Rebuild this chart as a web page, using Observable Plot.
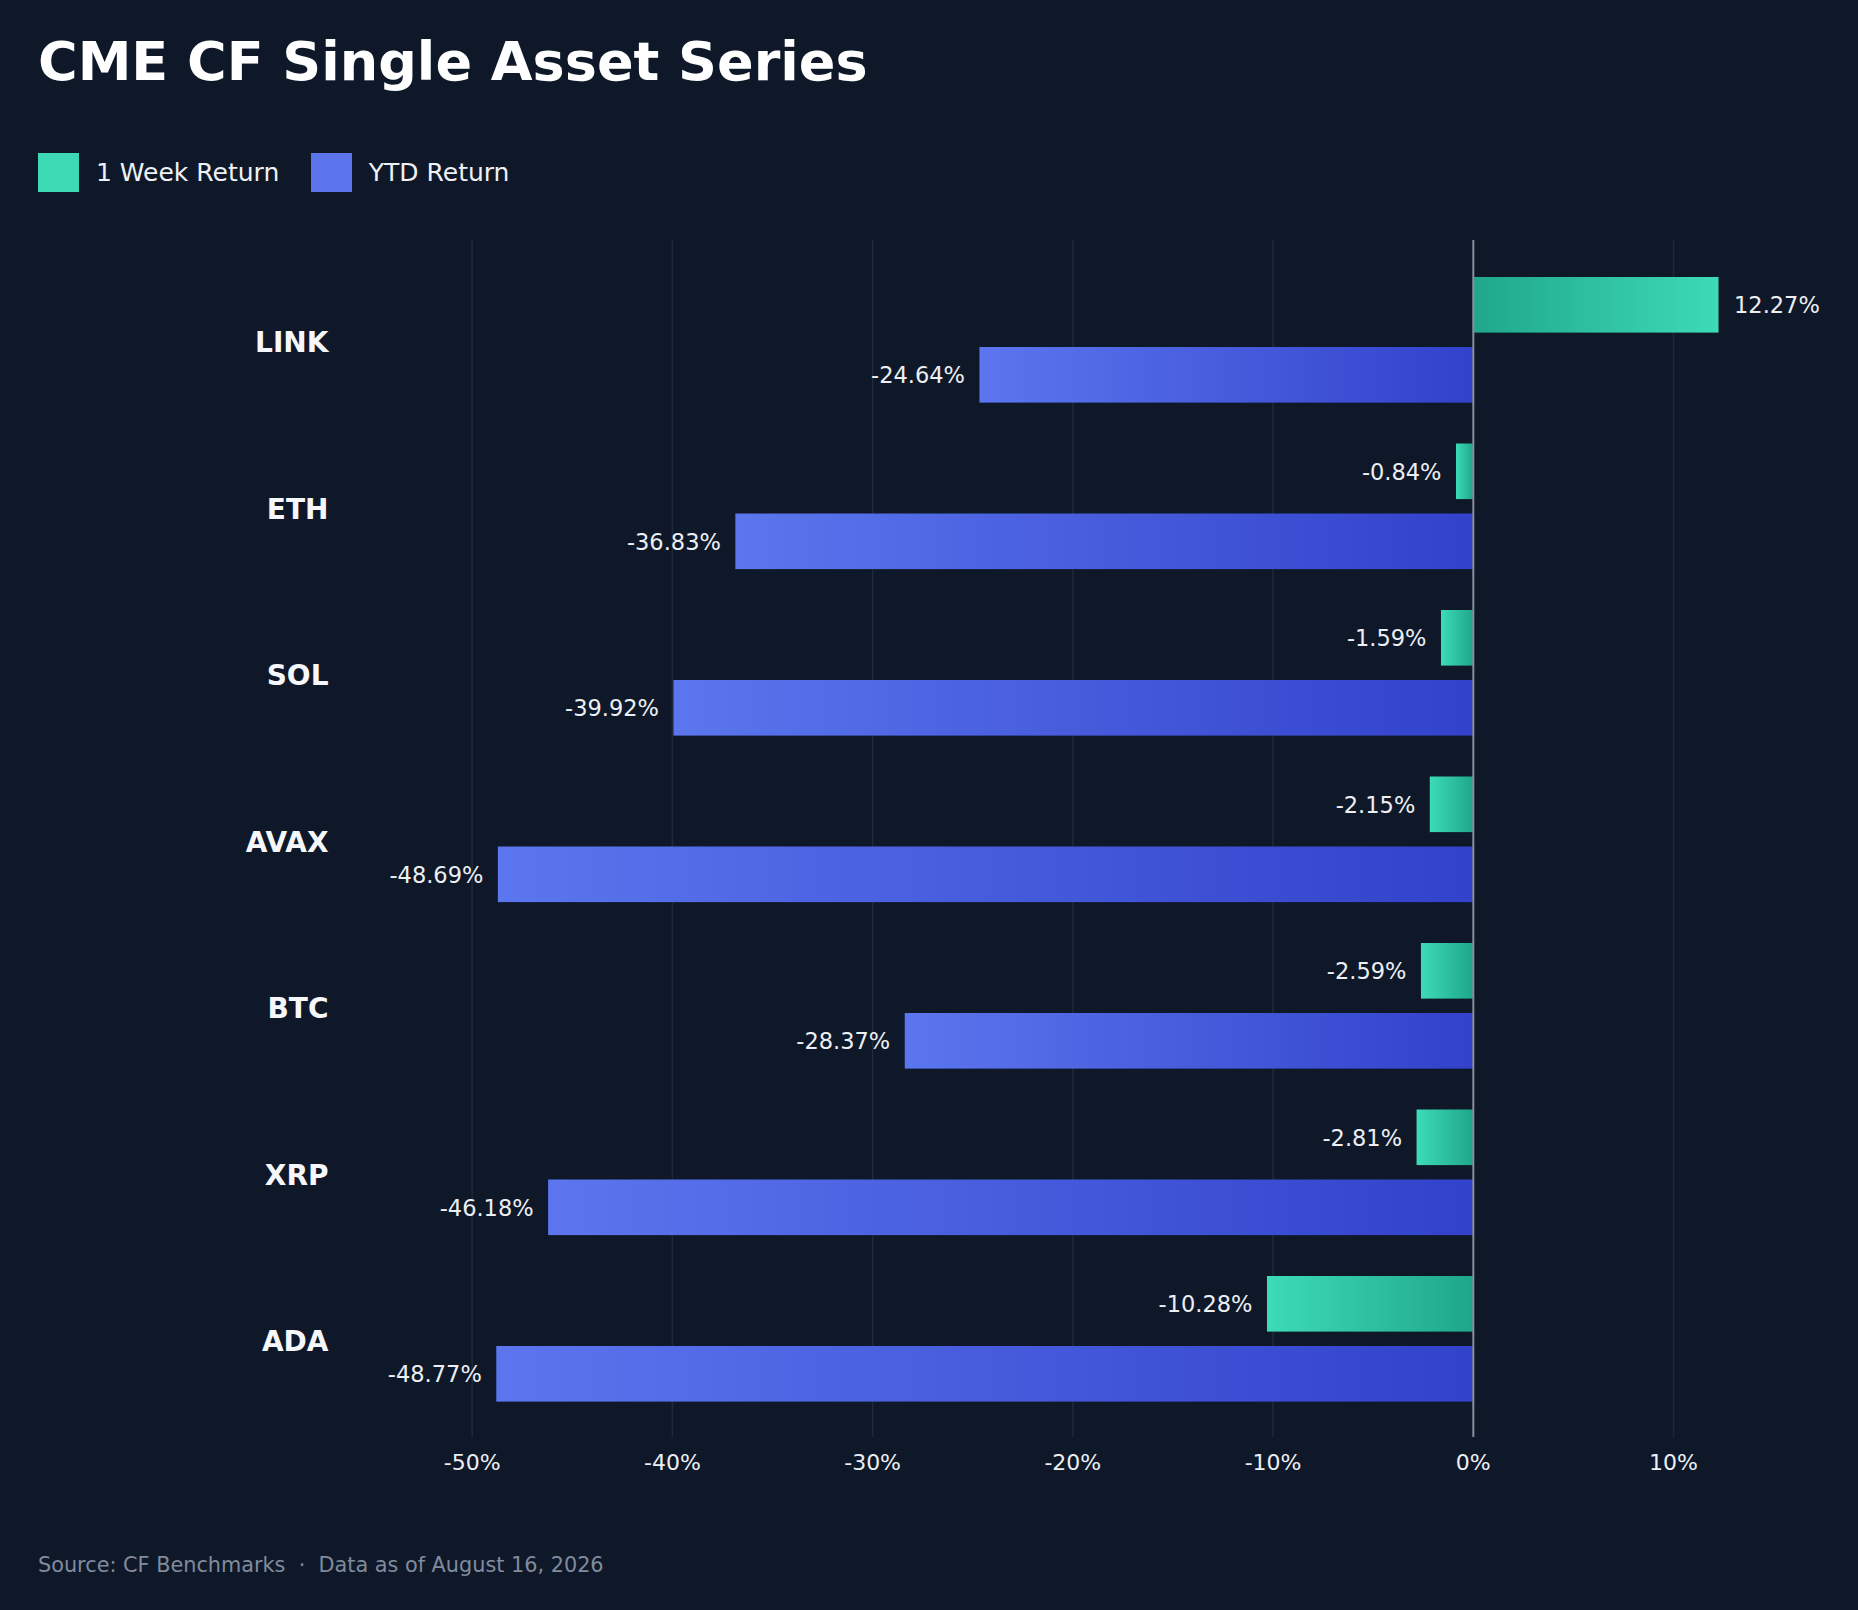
<!DOCTYPE html>
<html>
<head>
<meta charset="utf-8">
<script src="https://cdn.jsdelivr.net/npm/d3@7"></script>
<script src="https://cdn.jsdelivr.net/npm/@observablehq/plot@0.6"></script>
<style>
  html, body { margin: 0; padding: 0; background: #0f1829; }
  #wrap { position: relative; width: 1858px; height: 1610px; background: #0f1829; font-family: "DejaVu Sans", sans-serif; overflow: hidden; }
  #title { position: absolute; left: 38px; top: 30px; font-size: 54px; font-weight: bold; color: #ffffff; line-height: normal; white-space: nowrap; }
  #legend { position: absolute; left: 38px; top: 153px; display: flex; align-items: center; height: 39px; font-size: 25px; color: #eef1f5; }
  .sw { width: 41px; height: 39px; display: inline-block; flex: none; }
  .lt { margin-left: 17px; white-space: nowrap; line-height: normal; }
  #chart { position: absolute; left: 0; top: 200px; }
  #caption { position: absolute; left: 38px; top: 1553px; font-size: 20.8px; color: #808b9d; white-space: pre; line-height: normal; }
</style>
</head>
<body>
<div id="wrap">
  <div id="title">CME CF Single Asset Series</div>
  <div id="legend">
    <span class="sw" style="background:#3dd9b5"></span><span class="lt">1 Week Return</span>
    <span class="sw" style="background:#5b74ec;margin-left:31.5px"></span><span class="lt">YTD Return</span>
  </div>
  <div id="chart"></div>
  <div id="caption">Source: CF Benchmarks  ·  Data as of August 16, 2026</div>
</div>
<script>
const assets = ["LINK", "ETH", "SOL", "AVAX", "BTC", "XRP", "ADA"];
const weekReturn = [12.27, -0.84, -1.59, -2.15, -2.59, -2.81, -10.28];
const ytdReturn = [-24.64, -36.83, -39.92, -48.69, -28.37, -46.18, -48.77];
const xTicks = [-50, -40, -30, -20, -10, 0, 10];

const rows = assets.map((a, i) => ({ asset: a, week: weekReturn[i], ytd: ytdReturn[i] }));
const fmt = v => v.toFixed(2) + "%";

function defs() {
  const ns = "http://www.w3.org/2000/svg";
  const d = document.createElementNS(ns, "defs");
  const grads = [
    ["gradGreenPos", "#1fa78a", "#3ddbb7"],
    ["gradGreenNeg", "#3ddbb7", "#1fa78a"],
    ["gradBlue", "#5b76ee", "#3242cb"]
  ];
  for (const [id, c0, c1] of grads) {
    const g = document.createElementNS(ns, "linearGradient");
    g.setAttribute("id", id);
    g.setAttribute("x1", "0"); g.setAttribute("x2", "1");
    g.setAttribute("y1", "0"); g.setAttribute("y2", "0");
    const s0 = document.createElementNS(ns, "stop");
    s0.setAttribute("offset", "0"); s0.setAttribute("stop-color", c0);
    const s1 = document.createElementNS(ns, "stop");
    s1.setAttribute("offset", "1"); s1.setAttribute("stop-color", c1);
    g.appendChild(s0); g.appendChild(s1);
    d.appendChild(g);
  }
  return d;
}

const chart = Plot.plot({
  width: 1858,
  height: 1310,
  marginTop: 40,
  marginBottom: 73,
  marginLeft: 351.5,
  marginRight: 64.8,
  style: { background: "transparent", fontFamily: "DejaVu Sans", color: "#e8ebf0", overflow: "visible" },
  x: { domain: [-56, 16], label: null },
  y: { domain: assets, range: [56.6, 1222.1], padding: 0, round: false, label: null },
  marks: [
    defs,
    Plot.ruleX(xTicks.filter(t => t !== 0), { stroke: "#1e293b", strokeWidth: 1.5 }),
    Plot.barX(rows, { filter: d => d.week >= 0, y: "asset", x: "week", fill: "url(#gradGreenPos)", insetTop: 20.4, insetBottom: 90.5 }),
    Plot.barX(rows, { filter: d => d.week < 0, y: "asset", x: "week", fill: "url(#gradGreenNeg)", insetTop: 20.4, insetBottom: 90.5 }),
    Plot.barX(rows, { y: "asset", x: "ytd", fill: "url(#gradBlue)", insetTop: 90.4, insetBottom: 20.5 }),
    Plot.ruleX([0], { stroke: "#8a909b", strokeWidth: 2 }),
    Plot.text(rows, { filter: d => d.week >= 0, y: "asset", x: "week", text: d => fmt(d.week), dy: -34.5, dx: 15, textAnchor: "start", fill: "#eceff3", fontSize: 22.5 }),
    Plot.text(rows, { filter: d => d.week < 0, y: "asset", x: "week", text: d => fmt(d.week), dy: -34.5, dx: -15, textAnchor: "end", fill: "#eceff3", fontSize: 22.5 }),
    Plot.text(rows, { y: "asset", x: "ytd", text: d => fmt(d.ytd), dy: 35.5, dx: -15, textAnchor: "end", fill: "#eceff3", fontSize: 22.5 }),
    Plot.axisX({ ticks: xTicks, tickSize: 0, tickPadding: 17, fontSize: 22, tickFormat: d => `${d}%`, fill: "#eceff3", label: null }),
    Plot.axisY({ tickSize: 0, tickPadding: 23.5, dy: 3, fontSize: 28, fontWeight: "bold", fill: "#f5f7fa", label: null })
  ]
});
document.getElementById("chart").appendChild(chart);
</script>
</body>
</html>
